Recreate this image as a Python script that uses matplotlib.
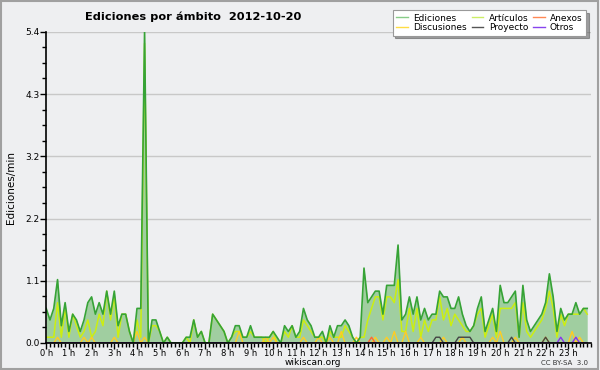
import numpy as np
import matplotlib
matplotlib.use("Agg")
import matplotlib.pyplot as plt
from matplotlib.lines import Line2D
from matplotlib.patches import Rectangle

# edits per minute, one value per 10-minute slot (144 slots)
ediciones = [0.6, 0.4, 0.6, 1.1, 0.3, 0.7, 0.2, 0.5, 0.4, 0.2, 0.4, 0.7,
             0.8, 0.5, 0.7, 0.5, 0.9, 0.5, 0.9, 0.3, 0.5, 0.5, 0.2, 0.0,
             0.6, 0.6, 5.4, 0.0, 0.4, 0.4, 0.2, 0.0, 0.1, 0.0, 0.0, 0.0,
             0.0, 0.1, 0.1, 0.4, 0.1, 0.2, 0.0, 0.0, 0.5, 0.4, 0.3, 0.2,
             0.0, 0.1, 0.3, 0.3, 0.1, 0.1, 0.3, 0.1, 0.1, 0.1, 0.1, 0.1,
             0.2, 0.1, 0.0, 0.3, 0.2, 0.3, 0.1, 0.2, 0.6, 0.4, 0.3, 0.1,
             0.1, 0.2, 0.0, 0.3, 0.1, 0.3, 0.3, 0.4, 0.3, 0.1, 0.0, 0.1,
             1.3, 0.7, 0.8, 0.9, 0.9, 0.5, 1.0, 1.0, 1.0, 1.7, 0.4, 0.5,
             0.8, 0.5, 0.8, 0.4, 0.6, 0.4, 0.5, 0.5, 0.9, 0.8, 0.8, 0.6,
             0.6, 0.8, 0.5, 0.3, 0.2, 0.3, 0.6, 0.8, 0.2, 0.4, 0.6, 0.2,
             1.0, 0.7, 0.7, 0.8, 0.9, 0.1, 1.0, 0.4, 0.2, 0.3, 0.4, 0.5,
             0.7, 1.2, 0.8, 0.2, 0.6, 0.4, 0.5, 0.5, 0.7, 0.5, 0.6, 0.6]

articulos = [0.1, 0.1, 0.1, 0.7, 0.1, 0.6, 0.1, 0.5, 0.3, 0.1, 0.2, 0.4,
             0.1, 0.2, 0.5, 0.3, 0.9, 0.4, 0.8, 0.1, 0.5, 0.5, 0.2, 0.0,
             0.4, 0.1, 5.2, 0.0, 0.3, 0.3, 0.2, 0.0, 0.1, 0.0, 0.0, 0.0,
             0.0, 0.1, 0.0, 0.4, 0.1, 0.2, 0.0, 0.0, 0.5, 0.4, 0.3, 0.2,
             0.0, 0.1, 0.2, 0.2, 0.1, 0.1, 0.2, 0.1, 0.1, 0.1, 0.0, 0.1,
             0.2, 0.0, 0.0, 0.2, 0.1, 0.3, 0.1, 0.1, 0.4, 0.3, 0.2, 0.1,
             0.1, 0.1, 0.0, 0.2, 0.1, 0.1, 0.1, 0.3, 0.2, 0.1, 0.0, 0.1,
             0.1, 0.4, 0.6, 0.8, 0.8, 0.4, 0.8, 0.8, 0.7, 1.1, 0.2, 0.2,
             0.6, 0.2, 0.6, 0.1, 0.4, 0.2, 0.4, 0.4, 0.8, 0.4, 0.6, 0.3,
             0.5, 0.4, 0.3, 0.2, 0.2, 0.3, 0.5, 0.6, 0.1, 0.3, 0.5, 0.1,
             0.6, 0.6, 0.6, 0.6, 0.7, 0.1, 0.7, 0.2, 0.1, 0.2, 0.3, 0.4,
             0.6, 0.9, 0.6, 0.1, 0.5, 0.3, 0.5, 0.5, 0.5, 0.5, 0.6, 0.5]

# sparse series: {slot: value}
discusiones_pts = {3: 0.1, 10: 0.1, 12: 0.1, 18: 0.1, 24: 0.2, 26: 0.1,
                   51: 0.2, 58: 0.1, 60: 0.1, 68: 0.1, 72: 0.1, 75: 0.1,
                   78: 0.2, 82: 0.1, 87: 0.1, 90: 0.1, 92: 0.2, 95: 0.2,
                   99: 0.1, 105: 0.1, 110: 0.1, 118: 0.1, 120: 0.2,
                   124: 0.1, 132: 0.1, 139: 0.2, 141: 0.1}
proyecto_pts = {103: 0.1, 104: 0.1, 109: 0.1, 110: 0.1, 111: 0.1,
                112: 0.1, 123: 0.1, 132: 0.1}
anexos_pts = {86: 0.1}
otros_pts = {136: 0.1, 140: 0.1}

hour_labels = ["%d h" % h for h in range(24)]
y_ticks = [0.0, 1.08, 2.16, 3.24, 4.32, 5.4]
y_labels = ["0.0", "1.1", "2.2", "3.2", "4.3", "5.4"]


def sparse(points, n=144):
    arr = np.zeros(n)
    for k, v in points.items():
        arr[k] = v
    return arr


x = np.arange(len(ediciones))
discusiones = sparse(discusiones_pts)
proyecto = sparse(proyecto_pts)
anexos = sparse(anexos_pts)
otros = sparse(otros_pts)

plt.rcParams['font.family'] = ['DejaVu Sans']

bg = "#eeeff1"
fig = plt.figure(figsize=(6, 3.7), dpi=100, facecolor=bg)
ax = fig.add_axes([0.077, 0.073, 0.908, 0.841], facecolor=bg)

ax.fill_between(x, 0, ediciones, color="#a0cea0", lw=0, zorder=1)
ax.plot(x, articulos, color="#ccee11", lw=1.1, zorder=2)
ax.plot(x, discusiones, color="#ffcc22", lw=1.0, zorder=2)
ax.plot(x, anexos, color="#ff6633", lw=1.0, zorder=2)
ax.plot(x, proyecto, color="#444444", lw=1.0, zorder=2)
ax.plot(x, otros, color="#8833ee", lw=1.0, zorder=2)
ax.plot(x, ediciones, color="#36a336", lw=1.2, zorder=3)

ax.set_xlim(0, 144)
ax.set_ylim(0, 5.4)
for s in ["top", "right"]:
    ax.spines[s].set_visible(False)
for s in ["left", "bottom"]:
    ax.spines[s].set_linewidth(1.2)
    ax.spines[s].set_zorder(4)

ax.set_yticks(y_ticks)
ax.set_yticklabels(y_labels)
ax.set_yticks(np.arange(0, 5.41, 0.27), minor=True)
ax.yaxis.grid(True, color="#c8c8c8", lw=1.0, zorder=0)
ax.set_axisbelow(True)

ax.set_xticks(np.arange(0, 144, 6))
ax.set_xticklabels(hour_labels)
ax.set_xticks(np.arange(0, 145, 1), minor=True)
ax.tick_params(axis="both", which="major", labelsize=6.5, length=4, width=1, pad=0.5)
ax.tick_params(axis="x", which="major", labelsize=6)
ax.tick_params(axis="both", which="minor", length=3, width=1)
ax.set_ylabel("Ediciones/min", fontsize=7.5, labelpad=7)

fig.text(0.142, 0.955, "Ediciones por ámbito  2012-10-20", fontsize=8.2,
         fontweight="bold", ha="left", va="center")
fig.text(0.522, 0.02, "wikiscan.org", fontsize=6.5, ha="center", va="center")
fig.text(0.98, 0.02, "CC BY-SA  3.0", fontsize=5, ha="right", va="center",
         color="#333333")

handles = [Line2D([], [], color="#88cc88", lw=1),
           Line2D([], [], color="#ffdd44", lw=1),
           Line2D([], [], color="#ccee66", lw=1),
           Line2D([], [], color="#555555", lw=1),
           Line2D([], [], color="#ff8855", lw=1),
           Line2D([], [], color="#8844ee", lw=1)]
names = ["Ediciones", "Discusiones", "Artículos", "Proyecto", "Anexos", "Otros"]
leg = fig.legend(handles, names, ncol=3, loc="upper right",
                 bbox_to_anchor=(0.977, 0.973), fontsize=6.5, frameon=True,
                 fancybox=False, shadow=True, handlelength=1.3,
                 handletextpad=0.6, columnspacing=0.5, labelspacing=0.05,
                 borderpad=0.4, borderaxespad=0)
leg.get_frame().set_edgecolor("#999999")
leg.get_frame().set_linewidth(0.8)

fig.patches.append(Rectangle((0.002, 0.003), 0.995, 0.994,
                             transform=fig.transFigure, fill=False,
                             edgecolor="#a0a0a0", lw=1.5))

fig.savefig("out.png", dpi=100, facecolor=bg)
